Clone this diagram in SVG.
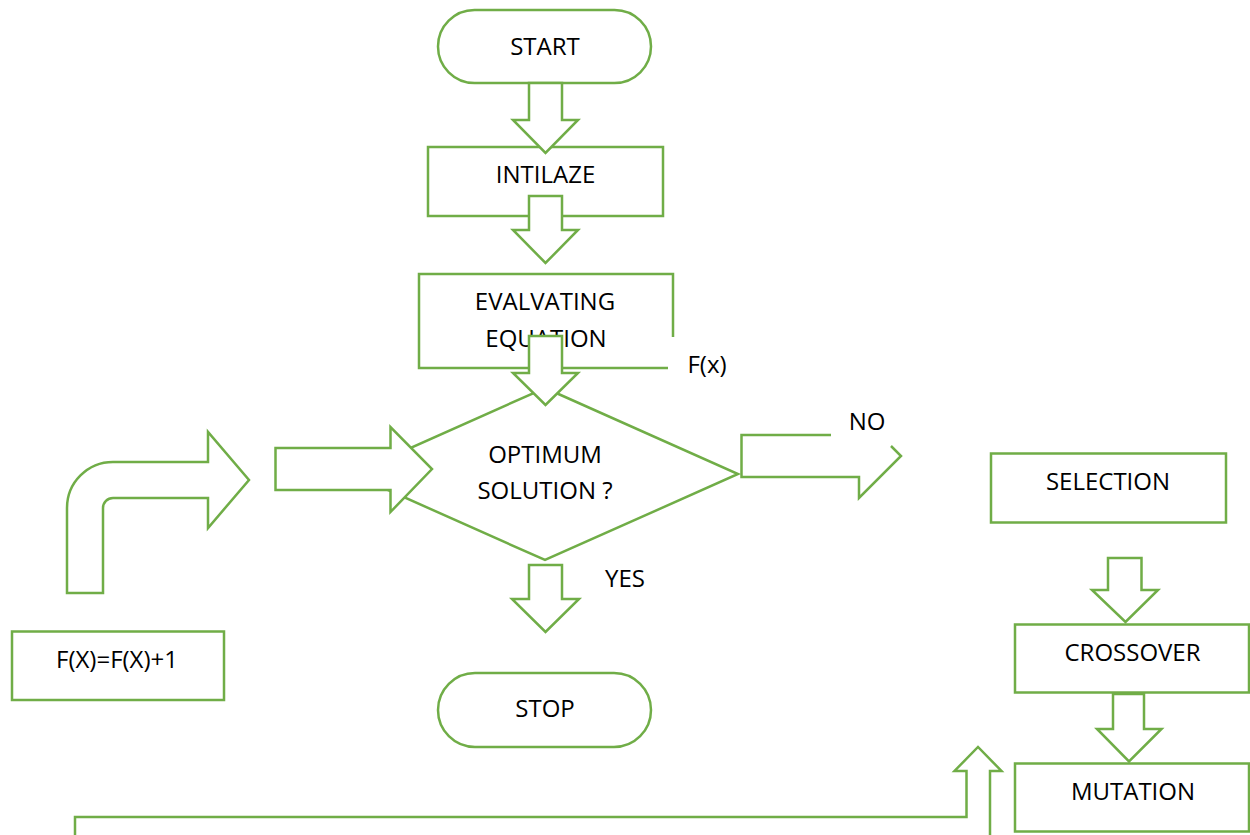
<svg xmlns="http://www.w3.org/2000/svg" width="1250" height="835" viewBox="0 0 1250 835">
<style>
.s{fill:#fff;stroke:#70AD47;stroke-width:2.5;stroke-linejoin:miter}
.o{fill:none;stroke:#70AD47;stroke-width:2.5}
text{font-family:"Open Sans","Liberation Sans",sans-serif;font-size:24px;fill:#000;text-anchor:middle}
</style>
<rect width="1250" height="835" fill="#fff"/>
<g id="start"><rect class="s" x="438" y="10" width="213" height="73" rx="36.5"/><text x="545" y="55">START</text></g>
<g id="intilaze"><rect class="s" x="428" y="147" width="235" height="69"/><text x="545.5" y="183">INTILAZE</text></g>
<g id="evaluating"><path class="s" d="M673,337 V274 H419 V368 H668" fill="#fff"/><text x="545" y="310">EVALVATING</text><text x="546" y="347">EQUATION</text></g>
<g id="fx-label"><text x="707" y="373">F(x)</text></g>
<g id="decision"><polygon class="s" points="545,388 738,474 545,560 352,474"/><text x="545" y="463">OPTIMUM</text><text x="545" y="499">SOLUTION ?</text></g>
<g id="stop"><rect class="s" x="438" y="673" width="213" height="74" rx="37"/><text x="545" y="717">STOP</text></g>
<g id="increment"><rect class="s" x="12" y="631.5" width="212" height="68.5"/><text x="117" y="668">F(X)=F(X)+1</text></g>
<g id="selection"><rect class="s" x="991" y="453.5" width="235" height="69"/><text x="1108" y="490">SELECTION</text></g>
<g id="crossover"><rect class="s" x="1015" y="624.5" width="234" height="68"/><text x="1132.5" y="661">CROSSOVER</text></g>
<g id="mutation"><rect class="s" x="1015" y="763.5" width="234" height="68"/><text x="1133" y="800">MUTATION</text></g>
<g id="connectors">
<polygon class="s" points="529,83 562,83 562,120 578,120 545.5,153 513,120 529,120"/>
<polygon class="s" points="529,196 562,196 562,230 578,230 545.5,263 513,230 529,230"/>
<polygon class="s" points="529,336 562,336 562,373 578,373 545.5,405 513,373 529,373"/>
<polygon class="s" points="529,565 562,565 562,599 579,599 545.5,632 512,599 529,599"/>
<polygon class="s" points="275.5,448 390.5,448 390.5,427 432,469 390.5,512 390.5,490 275.5,490"/>
<path class="s" d="M67,593 V508 A46,46 0 0 1 113,462 H208 V432 L249,480 L208,528 V498 H113 A10,10 0 0 0 103,508 V593 Z"/>
<polyline class="o" points="831,435 741.5,435 741.5,477 859,477 859,498 901,456 891,446"/>
<text x="867" y="430">NO</text>
<text x="625" y="587">YES</text>
<polygon class="s" points="1108,558 1141.5,558 1141.5,590 1158,590 1125.5,622 1092,590 1108,590"/>
<polygon class="s" points="1113,694 1144,694 1144,729 1161.5,729 1129,761.5 1097,729 1113,729"/>
<polyline class="o" points="75,840 75,817 966.5,817 966.5,771 954.5,771 978,747 1001.5,771 990,771 990,840"/>
</g>
</svg>
